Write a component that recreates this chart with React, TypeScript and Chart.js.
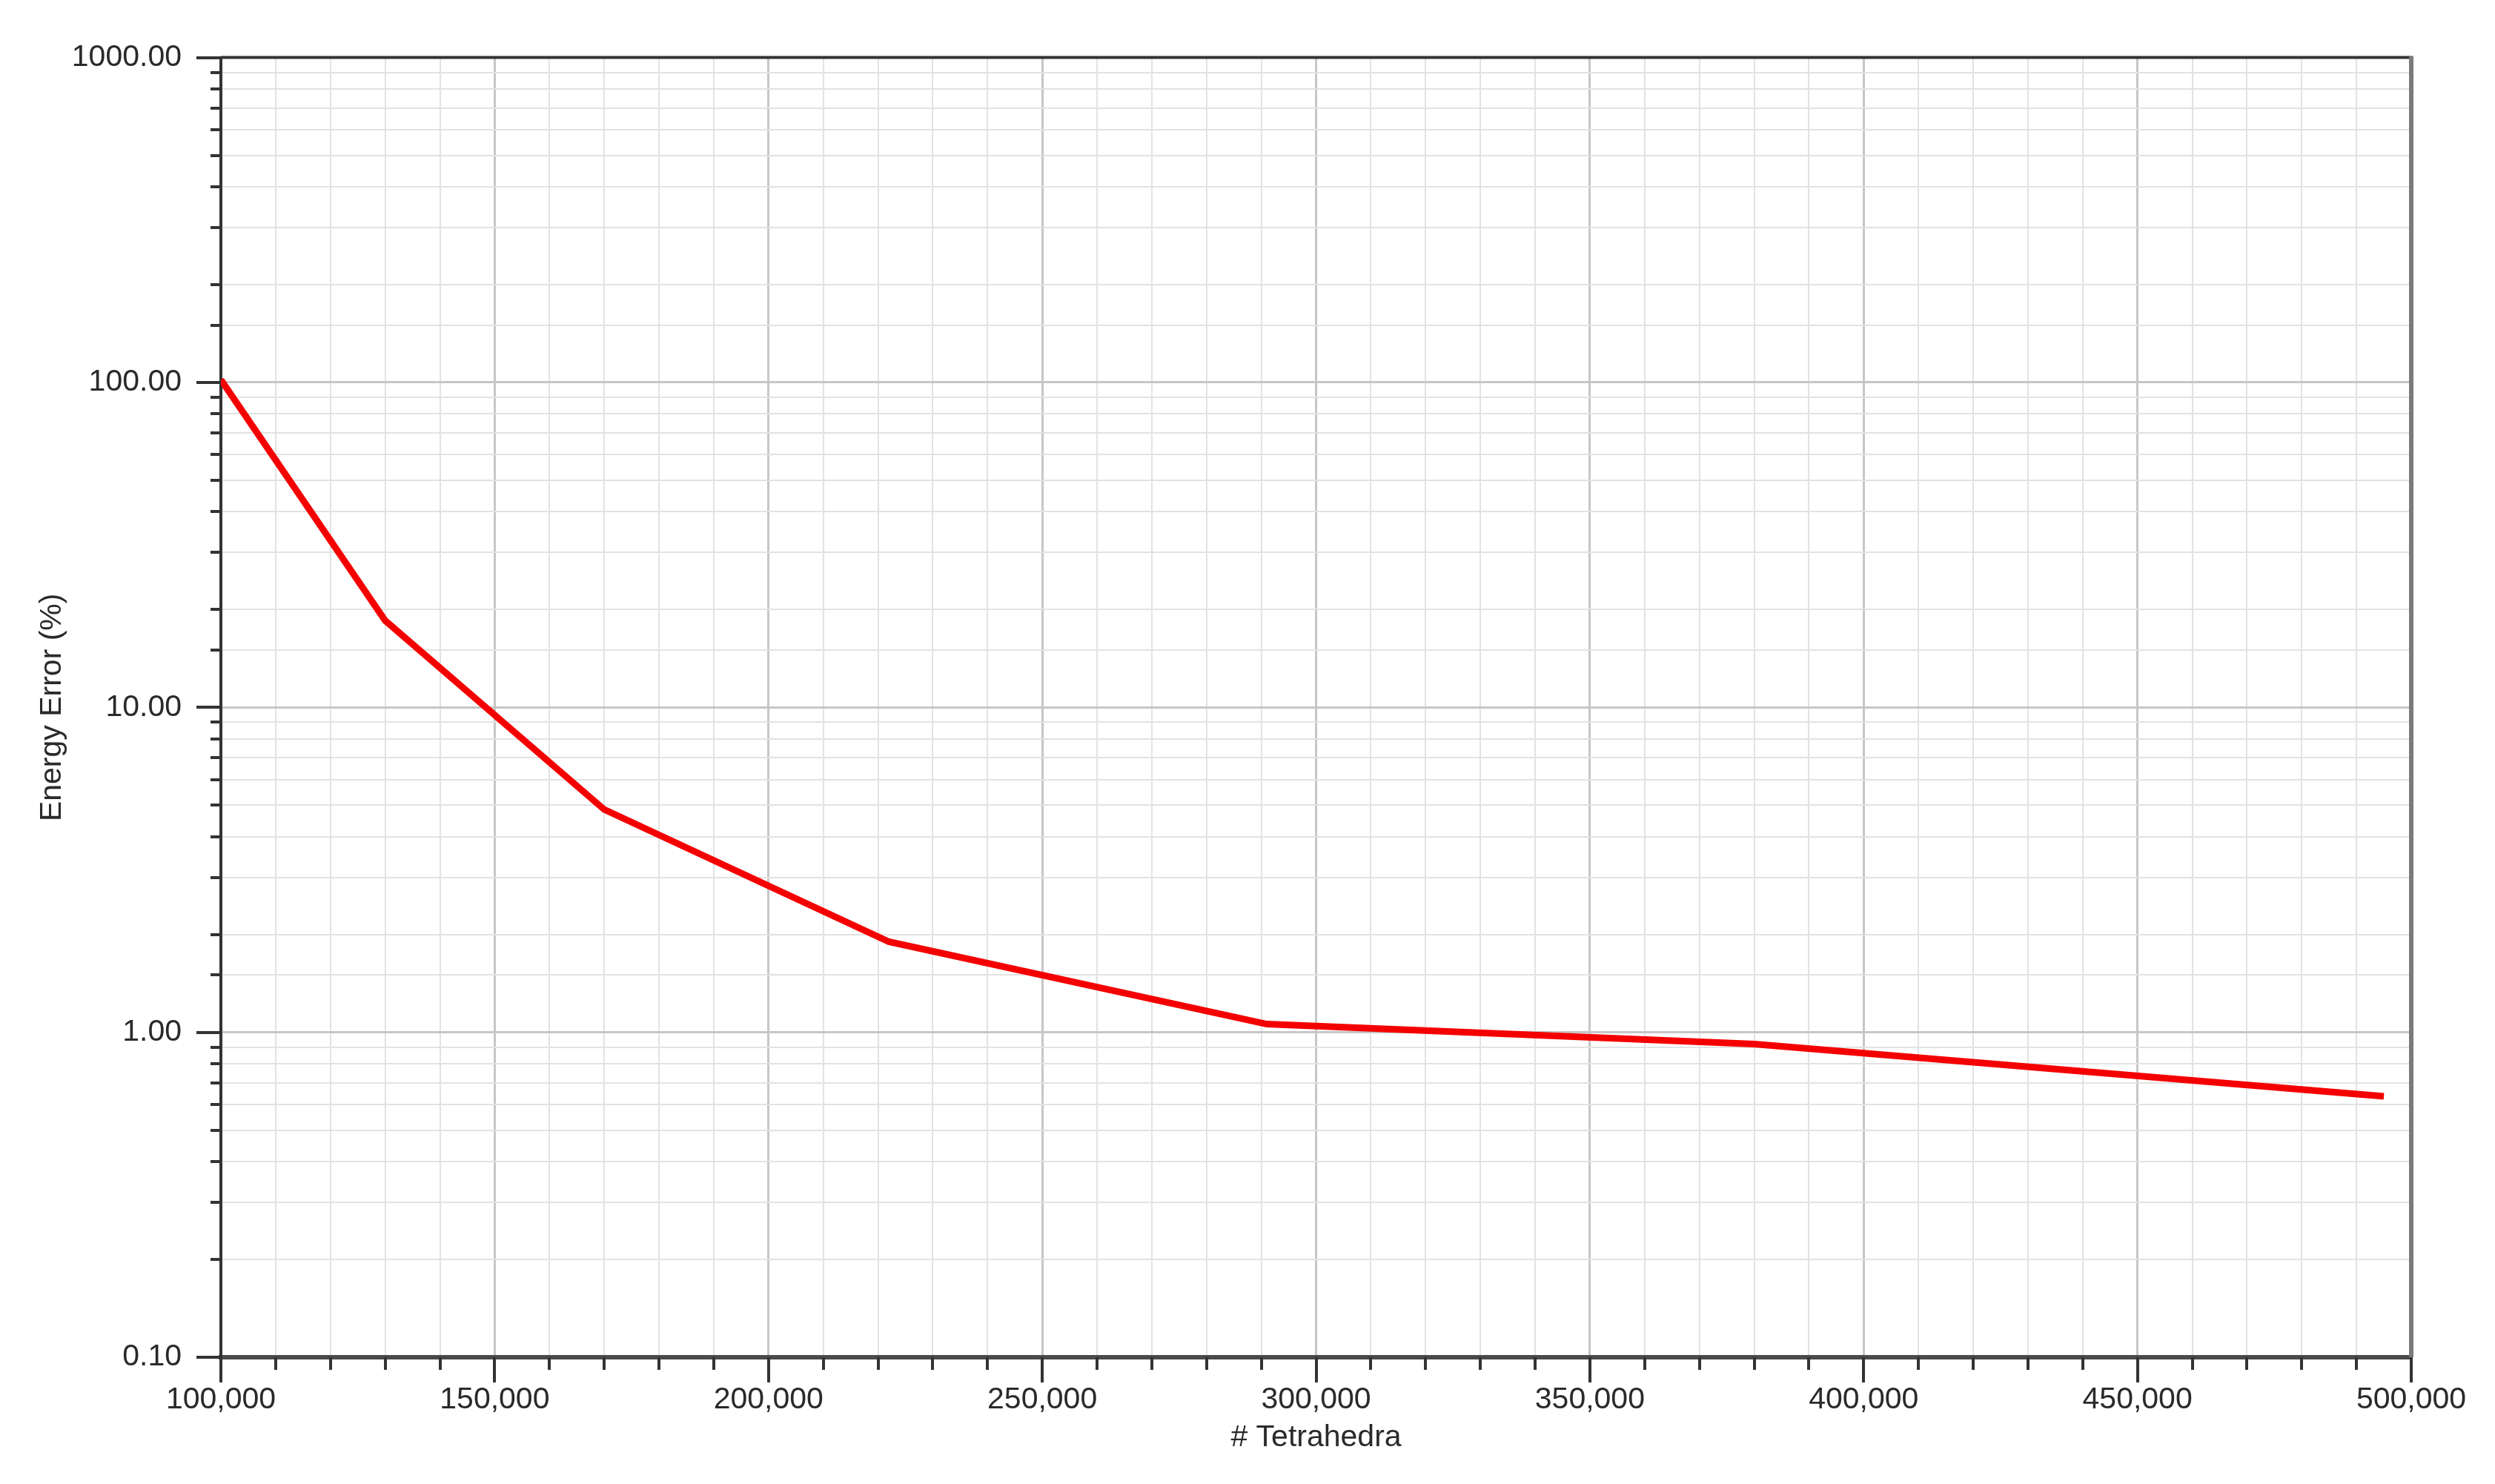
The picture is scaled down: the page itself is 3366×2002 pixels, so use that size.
import React, { useEffect, useRef } from 'react';
import { Chart, registerables } from 'chart.js';

Chart.register(...registerables);

// ---- data ----
const tetrahedra = [100000, 130000, 170000, 222000, 291000, 380000, 495000];
const energyError = [102, 18.5, 4.85, 1.9, 1.06, 0.92, 0.635];

const yLabelValues = [0.1, 1, 10, 100, 1000];
const yLabels = ['0.10', '1.00', '10.00', '100.00', '1000.00'];
const xLabelValues = [100000, 150000, 200000, 250000, 300000, 350000, 400000, 450000, 500000];
const xLabels = ['100,000', '150,000', '200,000', '250,000', '300,000', '350,000', '400,000', '450,000', '500,000'];

const xTitle = '# Tetrahedra';
const yTitle = 'Energy Error (%)';

const FONT = "'Liberation Sans', Arial, sans-serif";
const TEXT = '#2a2a2a';

const near = (a: number, b: number) => Math.abs(a - b) <= Math.abs(b) * 1e-6;
const isYMajor = (v: number) => yLabelValues.some((d) => near(v, d));
const isXMajor = (v: number) => xLabelValues.some((d) => near(v, d));

const frameAndTicks = {
  id: 'frameAndTicks',
  afterDraw(chart: any) {
    const { ctx, chartArea: a, scales } = chart;
    const x = scales.x;
    const y = scales.y;
    ctx.save();
    // top & right frame
    ctx.strokeStyle = '#333333';
    ctx.lineWidth = 4;
    ctx.beginPath();
    ctx.moveTo(a.left, a.top);
    ctx.lineTo(a.right, a.top);
    ctx.stroke();
    ctx.strokeStyle = '#7a7a7a';
    ctx.lineWidth = 6;
    ctx.beginPath();
    ctx.moveTo(a.right, a.top - 2);
    ctx.lineTo(a.right, a.bottom);
    ctx.stroke();
    // y tick marks
    ctx.strokeStyle = '#333333';
    ctx.lineWidth = 4;
    y.ticks.forEach((t: any) => {
      const py = Math.round(y.getPixelForValue(t.value));
      const len = isYMajor(t.value) ? 33 : 14;
      ctx.beginPath();
      ctx.moveTo(a.left - len, py);
      ctx.lineTo(a.left, py);
      ctx.stroke();
    });
    // x tick marks
    x.ticks.forEach((t: any) => {
      const px = Math.round(x.getPixelForValue(t.value));
      const len = isXMajor(t.value) ? 34 : 17;
      ctx.beginPath();
      ctx.moveTo(px, a.bottom);
      ctx.lineTo(px, a.bottom + len);
      ctx.stroke();
    });
    ctx.restore();
  },
};

export default function App() {
  const ref = useRef<HTMLCanvasElement | null>(null);

  useEffect(() => {
    if (!ref.current) return;
    const chart = new Chart(ref.current, {
      type: 'line',
      data: {
        datasets: [
          {
            label: 'Energy Error',
            data: tetrahedra.map((t, i) => ({ x: t, y: energyError[i] })),
            borderColor: '#f50000',
            borderWidth: 9,
            pointRadius: 0,
            tension: 0,
            fill: false,
          },
        ],
      },
      options: {
        responsive: false,
        animation: false,
        devicePixelRatio: 1,
        layout: { padding: { left: 0, right: 113, top: 75, bottom: 0 } },
        plugins: {
          legend: { display: false },
          tooltip: { enabled: false },
        },
        scales: {
          x: {
            type: 'linear',
            min: 100000,
            max: 500000,
            afterFit: (s: any) => {
              s.height = 171;
            },
            ticks: {
              stepSize: 10000,
              autoSkip: false,
              maxRotation: 0,
              padding: 33,
              color: TEXT,
              font: { family: FONT, size: 41 },
              callback: (v: any) => {
                const i = xLabelValues.findIndex((d) => near(Number(v), d));
                return i >= 0 ? xLabels[i] : '';
              },
            },
            grid: {
              drawTicks: false,
              color: (c: any) => (c.tick && isXMajor(c.tick.value) ? '#c6c6c6' : '#e2e2e2'),
              lineWidth: (c: any) => (c.tick && isXMajor(c.tick.value) ? 3 : 2),
            },
            border: { display: true, color: '#4a4a4a', width: 6 },
            title: {
              display: true,
              text: xTitle,
              color: TEXT,
              font: { family: FONT, size: 41 },
              padding: { top: 0, bottom: 38 },
            },
          },
          y: {
            type: 'logarithmic',
            min: 0.1,
            max: 1000,
            afterFit: (s: any) => {
              s.width = 298;
            },
            ticks: {
              autoSkip: false,
              padding: 53,
              color: TEXT,
              font: { family: FONT, size: 41 },
              callback: (v: any) => {
                const i = yLabelValues.findIndex((d) => near(Number(v), d));
                return i >= 0 ? yLabels[i] : '';
              },
            },
            grid: {
              drawTicks: false,
              color: (c: any) => (c.tick && isYMajor(c.tick.value) ? '#c6c6c6' : '#e2e2e2'),
              lineWidth: (c: any) => (c.tick && isYMajor(c.tick.value) ? 3 : 2),
            },
            border: { display: true, color: '#333333', width: 4 },
            title: {
              display: true,
              text: yTitle,
              color: TEXT,
              font: { family: FONT, size: 41 },
              padding: { top: 46, bottom: 0 },
            },
          },
        },
      },
      plugins: [frameAndTicks],
    });
    return () => chart.destroy();
  }, []);

  return (
    <div style={{ position: 'fixed', left: 0, top: 0, width: 3366, height: 2002, background: '#ffffff' }}>
      <canvas ref={ref} width={3366} height={2002} style={{ display: 'block' }} />
    </div>
  );
}
